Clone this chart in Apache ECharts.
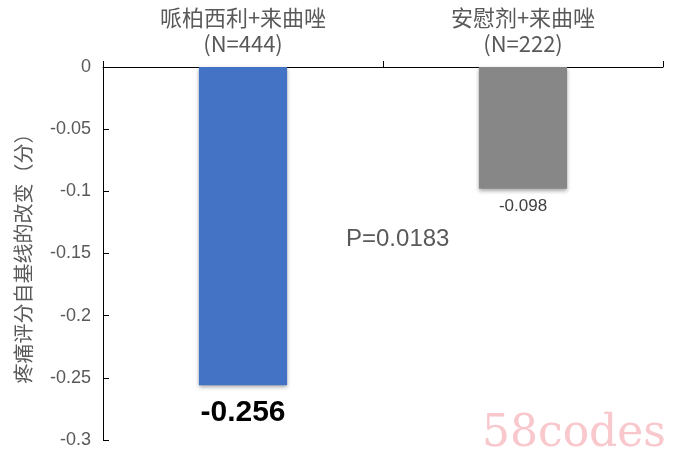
<!DOCTYPE html>
<html>
<head>
<meta charset="utf-8">
<script src="https://cdn.jsdelivr.net/npm/echarts@6/dist/echarts.min.js"></script>
<style>html,body{margin:0;padding:0;background:#fff;}#c{width:681px;height:461px;}</style>
</head>
<body>
<div id="c"></div>
<script>
var categories = ['哌柏西利+来曲唑\n(N=444)', '安慰剂+来曲唑\n(N=222)'];
var values = [-0.256, -0.098];
var barColors = ['#4472C4', '#878787'];
var yTicks = { min: -0.3, max: 0, interval: 0.05 };
var yName = '疼痛评分自基线的改变（分）';
var pText = 'P=0.0183';

var font = '"Noto Sans CJK SC", "Liberation Sans", Arial, sans-serif';
var latin = '"Liberation Sans", Arial, sans-serif';
var chart = echarts.init(document.getElementById('c'));
chart.setOption({
  animation: false,
  grid: { left: 103, right: 18, top: 67, bottom: 21 },
  xAxis: {
    type: 'category', position: 'top', data: categories,
    axisLine: { lineStyle: { color: '#000', width: 1 } },
    axisTick: { show: true, length: 6, lineStyle: { color: '#000' } },
    axisLabel: { color: '#595959', fontSize: 22, lineHeight: 26, margin: 10, fontFamily: font }
  },
  yAxis: {
    type: 'value', min: yTicks.min, max: yTicks.max, interval: yTicks.interval,
    name: yName, nameLocation: 'middle', nameGap: 70, nameRotate: 90,
    nameTextStyle: { color: '#595959', fontSize: 20, fontFamily: font },
    axisLine: { show: true, lineStyle: { color: '#000', width: 1 } },
    axisTick: { show: true, inside: true, length: 6, lineStyle: { color: '#000' } },
    axisLabel: { color: '#595959', fontSize: 18, margin: 12, fontFamily: latin },
    splitLine: { show: false }
  },
  series: [{
    type: 'bar', barWidth: '31.5%',
    data: values.map(function (v, i) {
      return {
        value: v,
        itemStyle: { color: barColors[i], shadowColor: 'rgba(0,0,0,0.35)', shadowBlur: 4, shadowOffsetY: 2 },
        label: i === 0
          ? { show: true, position: 'bottom', distance: 12, fontSize: 30, fontWeight: 'bold', color: '#000', fontFamily: latin }
          : { show: true, position: 'bottom', distance: 9, fontSize: 17, color: '#404040', fontFamily: latin }
      };
    })
  }],
  graphic: [
    { type: 'text', left: 346, top: 227, style: { text: pText, fontSize: 24, fill: '#595959', fontFamily: latin } },
    { type: 'text', left: 482, top: 413, style: { text: '58codes', fontSize: 44, fill: '#f8c8cd', fontFamily: '"DejaVu Serif", "Liberation Serif", serif' } }
  ]
});
</script>
</body>
</html>
